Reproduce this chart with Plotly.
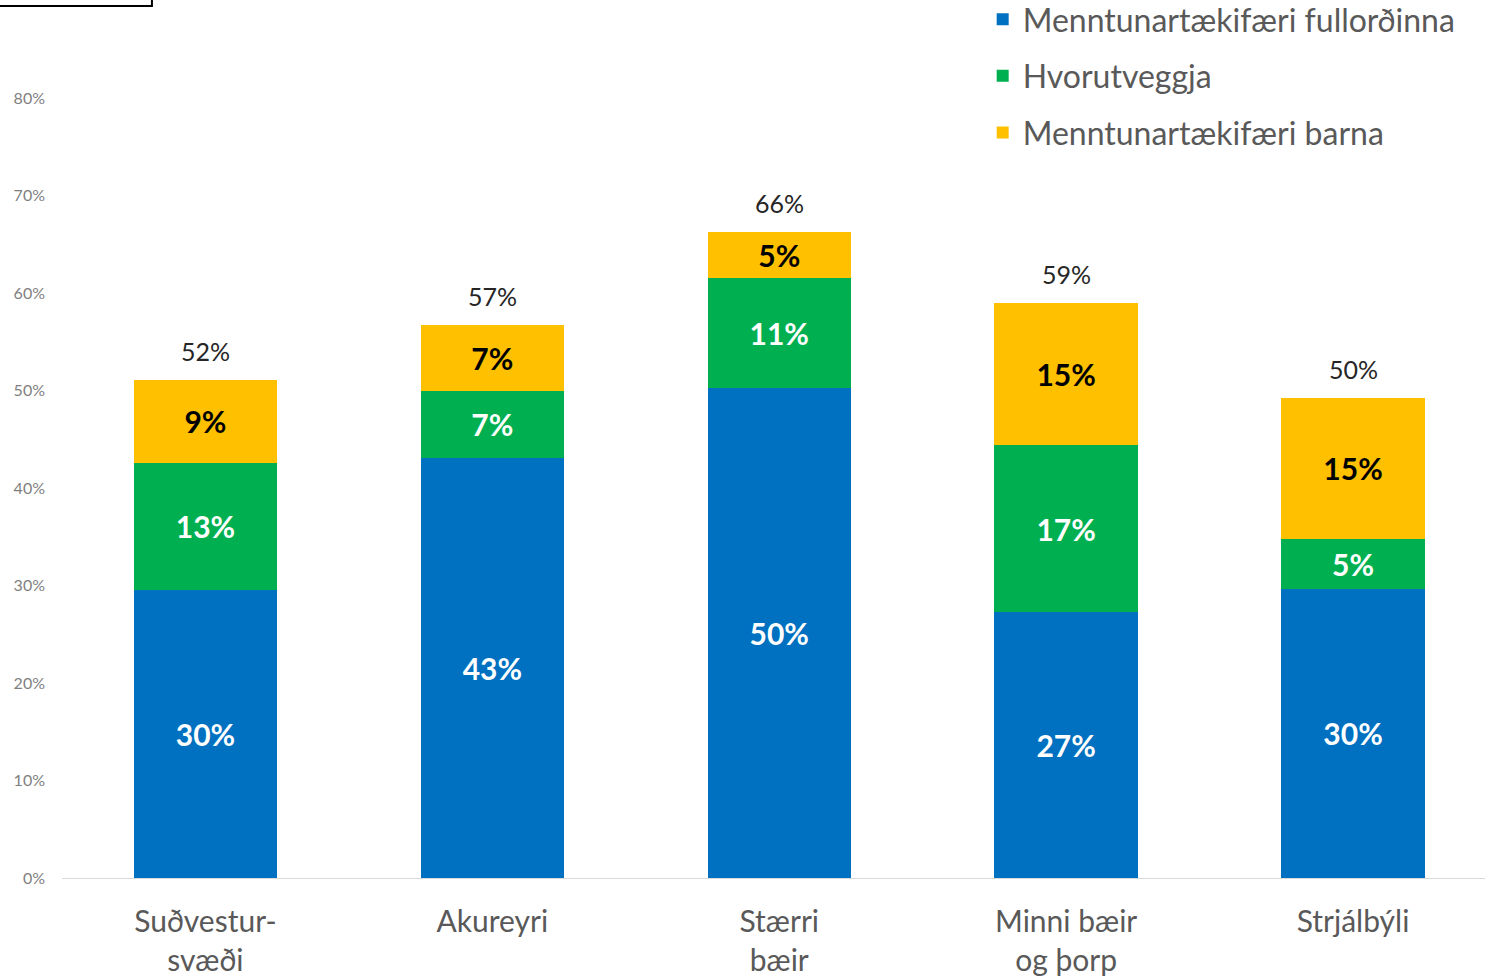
import plotly.graph_objects as go

categories = ["Suðvestur-<br>svæði", "Akureyri", "Stærri<br>bæir", "Minni bæir<br>og þorp", "Strjálbýli"]
series_names = ["Menntunartækifæri fullorðinna", "Hvorutveggja", "Menntunartækifæri barna"]
adults = [0.296, 0.431, 0.503, 0.273, 0.297]
both = [0.130, 0.069, 0.113, 0.171, 0.051]
children = [0.085, 0.067, 0.047, 0.146, 0.145]
adults_labels = ["30%", "43%", "50%", "27%", "30%"]
both_labels = ["13%", "7%", "11%", "17%", "5%"]
children_labels = ["9%", "7%", "5%", "15%", "15%"]
total_labels = ["52%", "57%", "66%", "59%", "50%"]
y_ticks = [0, 0.1, 0.2, 0.3, 0.4, 0.5, 0.6, 0.7, 0.8]

colors = ["#0070C0", "#00B050", "#FFC000"]
FONT = "Lato, 'Open Sans', sans-serif"

fig = go.Figure()
for i, (name, vals, labs, col, tcol) in enumerate([
    (series_names[0], adults, adults_labels, colors[0], "white"),
    (series_names[1], both, both_labels, colors[1], "white"),
    (series_names[2], children, children_labels, colors[2], "black"),
]):
    fig.add_trace(go.Bar(
        x=categories, y=vals, name=name, marker=dict(color=col, line=dict(width=0)),
        text=labs, textposition="inside", insidetextanchor="middle",
        textfont=dict(size=30, color=tcol, family=FONT, weight="bold"),
        constraintext="none", hoverinfo="skip", legendgroup=f"g{i}",
    ))

totals = [a + b + c for a, b, c in zip(adults, both, children)]
for cat, tot, lab in zip(categories, totals, total_labels):
    fig.add_annotation(x=cat, y=tot, text=lab, showarrow=False, yanchor="bottom", yshift=12,
                       font=dict(size=25, color="#262626", family=FONT))

fig.add_shape(type="rect", xref="paper", yref="paper",
              x0=-0.046, x1=0.0632, y0=0.9943, y1=1.03,
              line=dict(color="black", width=2), fillcolor="white")

fig.update_layout(
    width=1485, height=978,
    barmode="stack", bargap=0.5,
    plot_bgcolor="white", paper_bgcolor="white",
    margin=dict(l=62, r=0, t=1, b=100, autoexpand=False),
    font=dict(family=FONT, color="#595959"),
    legend=dict(
        x=0.647, y=1.0103, xanchor="left", yanchor="top",
        font=dict(size=32, color="#595959", family=FONT),
        bgcolor="rgba(0,0,0,0)", tracegroupgap=12, itemwidth=30,
        traceorder="grouped",
    ),
    showlegend=True,
)
fig.update_xaxes(
    range=[-0.5, 4.46], showgrid=False, showline=True, linecolor="#d9d9d9", linewidth=1,
    tickfont=dict(size=30, color="#595959", family=FONT), ticks="", ticklabelstandoff=17,
)
fig.update_yaxes(
    range=[0, 0.9], tickvals=y_ticks, tickformat=".0%", showgrid=False, zeroline=False,
    tickfont=dict(size=16, color="#7f7f7f", family=FONT), ticks="", ticklabelstandoff=16,
)

fig.write_html("out.html", config={"displayModeBar": False},
               post_script="document.body.style.margin='0';document.body.style.overflow='hidden';")
